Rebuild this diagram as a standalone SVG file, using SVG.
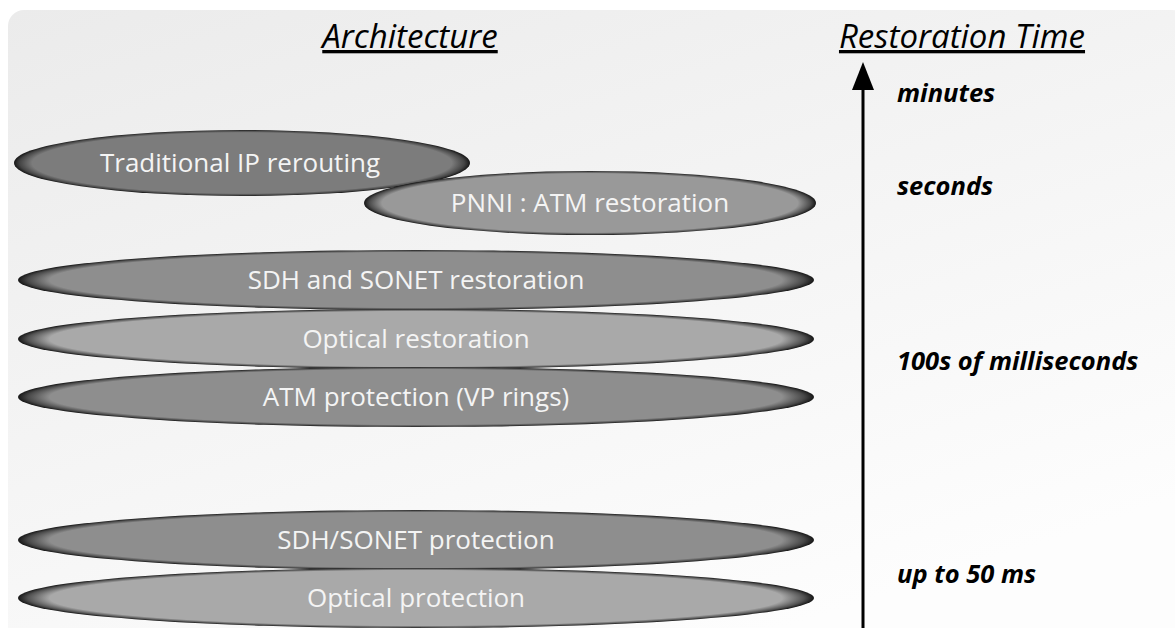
<svg xmlns="http://www.w3.org/2000/svg" width="1175" height="628" viewBox="0 0 1175 628">
  <defs>
    <linearGradient id="bg" x1="0" y1="0" x2="0.6" y2="1">
      <stop offset="0" stop-color="#ebebeb"/>
      <stop offset="1" stop-color="#fdfdfd"/>
    </linearGradient>
    <radialGradient id="gDark" cx="0.5" cy="0.5" r="0.5">
      <stop offset="0" stop-color="#7c7c7c"/>
      <stop offset="0.92" stop-color="#7c7c7c"/>
      <stop offset="0.975" stop-color="#444444"/>
      <stop offset="1" stop-color="#161616"/>
    </radialGradient>
    <radialGradient id="gMid" cx="0.5" cy="0.5" r="0.5">
      <stop offset="0" stop-color="#8e8e8e"/>
      <stop offset="0.92" stop-color="#8e8e8e"/>
      <stop offset="0.975" stop-color="#484848"/>
      <stop offset="1" stop-color="#161616"/>
    </radialGradient>
    <radialGradient id="gPnni" cx="0.5" cy="0.5" r="0.5">
      <stop offset="0" stop-color="#999999"/>
      <stop offset="0.92" stop-color="#999999"/>
      <stop offset="0.975" stop-color="#4c4c4c"/>
      <stop offset="1" stop-color="#161616"/>
    </radialGradient>
    <radialGradient id="gLight" cx="0.5" cy="0.5" r="0.5">
      <stop offset="0" stop-color="#a9a9a9"/>
      <stop offset="0.92" stop-color="#a9a9a9"/>
      <stop offset="0.975" stop-color="#525252"/>
      <stop offset="1" stop-color="#161616"/>
    </radialGradient>
  </defs>
  <style>
    .lbl { font-family: "Open Sans", "Noto Sans", sans-serif; font-size: 26px; fill: #f4f4f4; text-anchor: middle; }
    .title { font-family: "Open Sans", "Noto Sans", sans-serif; font-size: 33px; font-style: italic; fill: #000; text-decoration: underline; text-anchor: middle; }
    .time { font-family: "Open Sans", "Noto Sans", sans-serif; font-size: 25.5px; font-style: italic; font-weight: bold; fill: #000; }
  </style>
  <rect x="0" y="0" width="1175" height="628" fill="#ffffff"/>
  <rect x="8" y="10" width="1180" height="640" rx="16" fill="url(#bg)"/>

  <text class="title" x="410" y="48">Architecture</text>
  <text class="title" x="962" y="48">Restoration Time</text>

  <g id="n-ip">
    <ellipse cx="242" cy="163" rx="228" ry="33" fill="url(#gDark)"/>
    <text class="lbl" x="240" y="172">Traditional IP rerouting</text>
  </g>
  <g id="n-pnni">
    <ellipse cx="590" cy="203" rx="226" ry="32" fill="url(#gPnni)"/>
    <text class="lbl" x="590" y="212">PNNI : ATM restoration</text>
  </g>
  <g id="n-sdhrest">
    <ellipse cx="416" cy="280" rx="398" ry="30" fill="url(#gMid)"/>
    <text class="lbl" x="416" y="289">SDH and SONET restoration</text>
  </g>
  <g id="n-optrest">
    <ellipse cx="416" cy="339" rx="398" ry="30" fill="url(#gLight)"/>
    <text class="lbl" x="416" y="348">Optical restoration</text>
  </g>
  <g id="n-atm">
    <ellipse cx="416" cy="397" rx="398" ry="30" fill="url(#gMid)"/>
    <text class="lbl" x="416" y="406">ATM protection (VP rings)</text>
  </g>
  <g id="n-sdhprot">
    <ellipse cx="416" cy="540" rx="398" ry="30" fill="url(#gMid)"/>
    <text class="lbl" x="416" y="549">SDH/SONET protection</text>
  </g>
  <g id="n-optprot">
    <ellipse cx="416" cy="598" rx="398" ry="30" fill="url(#gLight)"/>
    <text class="lbl" x="416" y="607">Optical protection</text>
  </g>

  <g id="connectors">
    <line x1="863" y1="628" x2="863" y2="85" stroke="#000" stroke-width="3"/>
    <polygon points="863,62 852,90 874,90" fill="#000"/>
  </g>

  <g id="time-labels">
    <text class="time" x="897" y="102">minutes</text>
    <text class="time" x="897" y="195">seconds</text>
    <text class="time" x="897" y="370">100s of milliseconds</text>
    <text class="time" x="897" y="583">up to 50 ms</text>
  </g>
</svg>
